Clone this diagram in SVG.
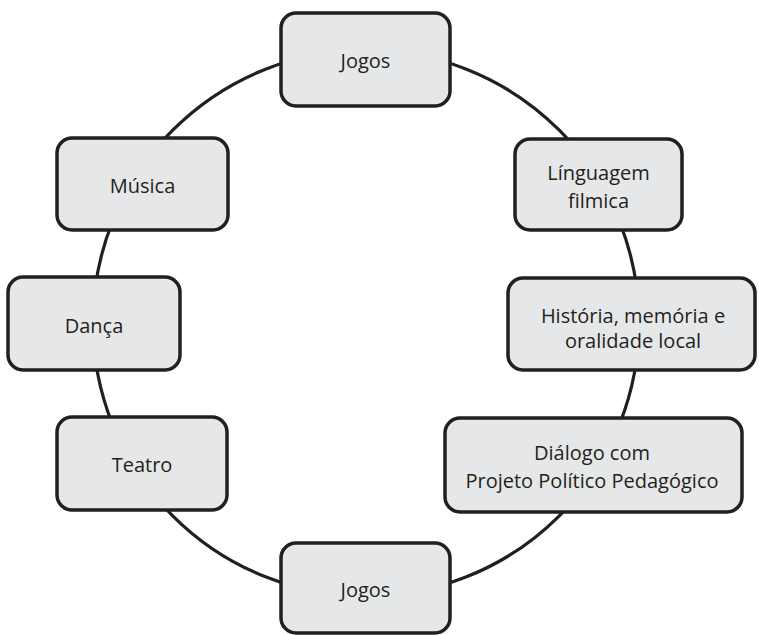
<svg xmlns="http://www.w3.org/2000/svg" width="759" height="635" viewBox="0 0 759 635">
<style>
.box{fill:#e6e7e8;stroke:#231f20;stroke-width:3.5}
.lbl{font-family:"Open Sans","Liberation Sans",sans-serif;font-size:20px;fill:#231f20;text-anchor:middle}
.ring{fill:none;stroke:#231f20;stroke-width:3.2}
</style>
<rect width="759" height="635" fill="#ffffff"/>
<g id="connectors">
<circle class="ring" cx="366" cy="323" r="273"/>
</g>
<g id="jogos-top">
<rect class="box" x="281" y="13" width="169" height="93" rx="15"/>
<text class="lbl" x="365.5" y="68">Jogos</text>
</g>
<g id="linguagem">
<rect class="box" x="515" y="139" width="167" height="91" rx="15"/>
<text class="lbl" x="598.5" y="180">Línguagem</text>
<text class="lbl" x="598.5" y="208">filmica</text>
</g>
<g id="historia">
<rect class="box" x="508" y="278" width="247" height="92" rx="15"/>
<text class="lbl" x="633" y="323">História, memória e</text>
<text class="lbl" x="633" y="348">oralidade local</text>
</g>
<g id="dialogo">
<rect class="box" x="445" y="418" width="297" height="94" rx="15"/>
<text class="lbl" x="592" y="460">Diálogo com</text>
<text class="lbl" x="592" y="488">Projeto Político Pedagógico</text>
</g>
<g id="jogos-bottom">
<rect class="box" x="281" y="543" width="169" height="90" rx="15"/>
<text class="lbl" x="365.5" y="597">Jogos</text>
</g>
<g id="teatro">
<rect class="box" x="57" y="417" width="170" height="93" rx="15"/>
<text class="lbl" x="142" y="472">Teatro</text>
</g>
<g id="danca">
<rect class="box" x="8" y="277" width="172" height="93" rx="15"/>
<text class="lbl" x="94" y="333">Dança</text>
</g>
<g id="musica">
<rect class="box" x="57" y="138" width="171" height="92" rx="15"/>
<text class="lbl" x="142.5" y="193">Música</text>
</g>
</svg>
